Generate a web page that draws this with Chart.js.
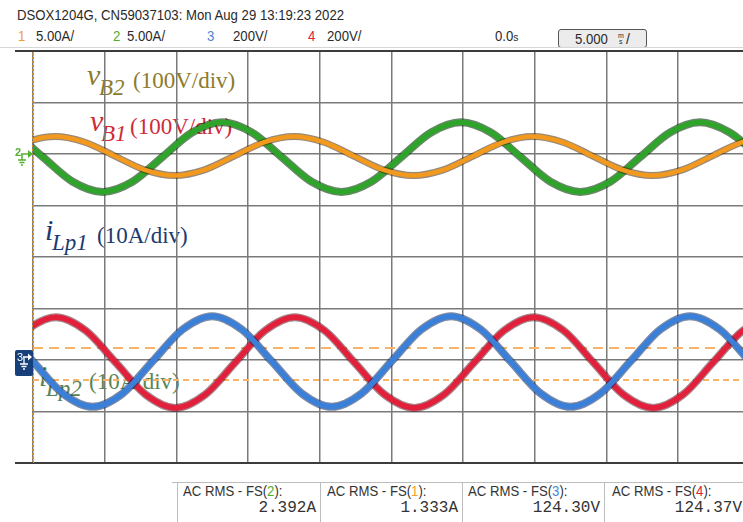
<!DOCTYPE html>
<html>
<head>
<meta charset="utf-8">
<script src="https://cdn.jsdelivr.net/npm/chart.js@4.4.0/dist/chart.umd.min.js"></script>
<style>
  html, body { margin: 0; padding: 0; background: #fff; }
  #scope { position: relative; width: 743px; height: 522px; overflow: hidden; }
  #scope canvas { position: absolute; left: 0; top: 0; z-index: 2; }
  .t { position: absolute; white-space: nowrap; z-index: 1; }
  .top { z-index: 3; }
  #tbBox { position: absolute; left: 558px; top: 29px; width: 89px; height: 19px; box-sizing: border-box;
           border: 1.5px solid #555; border-radius: 3px; background: #ececec; z-index: 0; }
</style>
</head>
<body>
<div id="scope"><div id="tbBox"></div><canvas id="wave" width="743" height="522"></canvas></div>
<script>
// captured waveforms, time in ms (5 ms/div), 1 & 2 in A, 3 & 4 in V
const ch1Times = [-2.63, -0.54, 1.54, 3.62, 5.71, 7.79, 9.87, 11.96, 14.04, 16.12, 18.21, 20.29, 22.37, 24.46,
  26.54, 28.62, 30.71, 32.79, 34.87, 36.96, 39.04, 41.12, 43.21, 45.29, 47.37, 49.46, 51.54];
const ch1Amps = [-0.20, 1.14, 1.69, 1.14, -0.20, -1.54, -2.09, -1.54, -0.20, 1.14, 1.69, 1.14, -0.20, -1.54,
  -2.09, -1.54, -0.20, 1.14, 1.69, 1.14, -0.20, -1.54, -2.09, -1.54, -0.20, 1.14, 1.69];

const ch2Times = [-3.48, -1.40, 0.69, 2.77, 4.85, 6.94, 9.02, 11.10, 13.19, 15.27, 17.35, 19.44, 21.52, 23.60,
  25.69, 27.77, 29.85, 31.94, 34.02, 36.10, 38.19, 40.27, 42.35, 44.44, 46.52, 48.60, 50.69];
const ch2Amps = [3.08, 2.09, -0.30, -2.69, -3.68, -2.69, -0.30, 2.09, 3.08, 2.09, -0.30, -2.69, -3.68, -2.69,
  -0.30, 2.09, 3.08, 2.09, -0.30, -2.69, -3.68, -2.69, -0.30, 2.09, 3.08, 2.09, -0.30];

const ch3Times = [-4.17, -2.08, 0.00, 2.08, 4.17, 6.25, 8.33, 10.42, 12.50, 14.58, 16.67, 18.75, 20.83, 22.92,
  25.00, 27.08, 29.17, 31.25, 33.33, 35.42, 37.50, 39.58, 41.67, 43.75, 45.83, 47.92, 50.00];
const ch3Volts = [170, 118, -6, -130, -182, -130, -6, 118, 170, 118, -6, -130, -182, -130,
  -6, 118, 170, 118, -6, -130, -182, -130, -6, 118, 170, 118, -6];

const ch4Times = [-2.57, -0.48, 1.60, 3.68, 5.77, 7.85, 9.93, 12.02, 14.10, 16.18, 18.27, 20.35, 22.43, 24.52,
  26.60, 28.68, 30.77, 32.85, 34.93, 37.02, 39.10, 41.18, 43.27, 45.35, 47.43, 49.52, 51.60];
const ch4Volts = [-10, 114, 166, 114, -10, -134, -186, -134, -10, 114, 166, 114, -10, -134,
  -186, -134, -10, 114, 166, 114, -10, -134, -186, -134, -10, 114, 166];

const cursorVolts = [47, -78];
const screenMs = 49.53;

const rms = [
  { ch: '2', color: '#4cae2e', value: '2.392A' },
  { ch: '1', color: '#f0a030', value: '1.333A' },
  { ch: '3', color: '#4a86d8', value: '124.30V' },
  { ch: '4', color: '#e0203a', value: '124.37V' }
];

// ---------- text ----------
const scope = document.getElementById('scope');
const fams = {
  sans: ['"Liberation Sans", Arial, sans-serif', 0.8465],
  serif: ['"Liberation Serif", "Times New Roman", serif', 0.8375],
  mono: ['"Liberation Mono", "DejaVu Sans Mono", monospace', 0.7665]
};
function put(html, x, base, size, fam, color, o = {}) {
  const el = document.createElement('span');
  el.className = 't' + (o.top ? ' top' : '');
  el.innerHTML = html;
  el.style.fontFamily = fams[fam][0];
  el.style.fontSize = size + 'px';
  el.style.lineHeight = size + 'px';
  el.style.top = (base - fams[fam][1] * size) + 'px';
  el.style.color = color;
  if (o.italic) el.style.fontStyle = 'italic';
  if (o.bold) el.style.fontWeight = 'bold';
  if (o.right) el.style.right = (743 - x) + 'px'; else el.style.left = x + 'px';
  if (o.sx) { el.style.transform = 'scaleX(' + o.sx + ')'; el.style.transformOrigin = o.right ? 'right' : 'left'; }
  if (o.alpha) el.style.opacity = o.alpha;
  scope.appendChild(el);
}

const ink = '#2a2a2a';
put('DSOX1204G, CN59037103: Mon Aug 29 13:19:23 2022', 17, 20, 14, 'sans', ink, { sx: 0.94 });
put('1', 18, 41, 14, 'sans', '#f0a030', { sx: 0.94 });
put('5.00A/', 36, 41, 14, 'sans', ink, { sx: 0.94 });
put('2', 113, 41, 14, 'sans', '#4cae2e', { sx: 0.94 });
put('5.00A/', 127, 41, 14, 'sans', ink, { sx: 0.94 });
put('3', 207, 41, 14, 'sans', '#4a86d8', { sx: 0.94 });
put('200V/', 233, 41, 14, 'sans', ink, { sx: 0.94 });
put('4', 308, 41, 14, 'sans', '#e0203a', { sx: 0.94 });
put('200V/', 327, 41, 14, 'sans', ink, { sx: 0.94 });
put('0.0<span style="font-size:11px">s</span>', 495, 41, 14, 'sans', ink, { sx: 0.94 });
put('5.000', 575, 44, 14, 'sans', ink, { sx: 0.94 });
put('m', 618, 38, 7, 'sans', ink);
put('s', 619, 44, 7, 'sans', ink);
put('/', 626, 44, 14, 'sans', ink);

// measurement table
const cellLeft = [183, 327, 468, 612];
const cellRight = [316, 458, 600, 742];
rms.forEach((m, i) => {
  put('AC RMS - FS(<span style="color:' + m.color + '">' + m.ch + '</span>):', cellLeft[i], 496, 14, 'sans', '#333', { sx: 0.94 });
  put(m.value, cellRight[i], 512, 16, 'mono', '#333', { right: true });
});

// annotations laid over the screen
function tag(main, sub, unit, x, base, color, subDx, unitDx, alpha) {
  put(main, x, base, 30, 'serif', color, { italic: true, alpha });
  put(sub, x + subDx, base + 10, 23, 'serif', color, { italic: true, alpha });
  put(unit, x + unitDx, base + 3, 23, 'serif', color, { alpha });
}
tag('v', 'B2', '(100V/div)', 87, 85, '#8d7b2c', 12, 46, 1);
tag('v', 'B1', '(100V/div)', 90, 131, '#d02a38', 11, 40, 1);
tag('i', 'Lp1', '(10A/div)', 45, 240, '#1c3a72', 7, 52, 1);
tag('i', 'Lp2', '(10A/div)', 39, 386, '#4b7a45', 7, 50, 0.92);

// channel digits on the ground markers
put('2', 15, 156, 11, 'sans', '#55b030', { top: true, bold: true });
put('3', 17, 361, 11, 'sans', '#ffffff', { top: true });

// ---------- chart ----------
const pts = (xs, ys) => xs.map((t, i) => ({ x: t, y: ys[i] }));
function trace(xs, ys, axis, color, width, order) {
  return { data: pts(xs, ys), yAxisID: axis, borderColor: color, borderWidth: width,
    pointRadius: 0, cubicInterpolationMode: 'monotone', order };
}

const scopeMarks = {
  id: 'scopeMarks',
  afterDraw(chart) {
    const c = chart.ctx, a = chart.chartArea;
    c.save();
    c.strokeStyle = '#d6d6d6'; c.lineWidth = 1;
    c.beginPath(); c.moveTo(0, 47.5); c.lineTo(743, 47.5); c.stroke();

    c.strokeStyle = '#3c3c3c'; c.lineWidth = 2;
    c.beginPath();
    c.moveTo(15, a.top); c.lineTo(a.left, a.top);
    c.moveTo(15, a.bottom); c.lineTo(a.left, a.bottom);
    c.stroke();

    // measurement table rules
    c.strokeStyle = '#bdbdbd'; c.lineWidth = 1;
    c.beginPath(); c.moveTo(172, 482.5); c.lineTo(743, 482.5);
    [177, 320, 462, 604].forEach(x => { c.moveTo(x + 0.5, 482.5); c.lineTo(x + 0.5, 522); });
    c.stroke();

    // channel 2 ground marker
    const y2 = Math.round(chart.scales.yA.getPixelForValue(0));
    c.strokeStyle = c.fillStyle = '#55b030'; c.lineWidth = 1.5;
    c.beginPath();
    c.moveTo(21, y2); c.lineTo(29, y2);
    c.moveTo(22, y2); c.lineTo(22, y2 + 6);
    c.moveTo(18, y2 + 6); c.lineTo(26, y2 + 6);
    c.moveTo(19.5, y2 + 8.5); c.lineTo(24.5, y2 + 8.5);
    c.moveTo(21, y2 + 11); c.lineTo(23, y2 + 11);
    c.stroke();
    c.beginPath(); c.moveTo(28, y2 - 4); c.lineTo(33, y2); c.lineTo(28, y2 + 4); c.closePath(); c.fill();

    // channel 3 ground marker
    const y3 = Math.round(chart.scales.yV.getPixelForValue(0));
    c.fillStyle = '#173f7a';
    c.beginPath(); c.roundRect(15, y3 - 10, 18, 26, 2); c.fill();
    c.strokeStyle = c.fillStyle = '#ffffff'; c.lineWidth = 1.3;
    c.beginPath();
    c.moveTo(23, y3 - 3); c.lineTo(29, y3 - 3);
    c.moveTo(24, y3 - 3); c.lineTo(24, y3 + 4);
    c.moveTo(20, y3 + 4); c.lineTo(28, y3 + 4);
    c.moveTo(21.5, y3 + 6.5); c.lineTo(26.5, y3 + 6.5);
    c.moveTo(23, y3 + 9); c.lineTo(25, y3 + 9);
    c.stroke();
    c.beginPath(); c.moveTo(28, y3 - 6.5); c.lineTo(32, y3 - 3); c.lineTo(28, y3 + 0.5); c.closePath(); c.fill();
    c.restore();
  }
};

const gridInk = '#7a7a7a';
new Chart(document.getElementById('wave'), {
  type: 'line',
  data: {
    datasets: [
      trace(ch3Times, ch3Volts, 'yV', '#3a80d8', 5.5, 0),
      trace(ch3Times, ch3Volts, 'yV', 'rgba(20,40,90,0.55)', 8, 1),
      trace(ch4Times, ch4Volts, 'yV', '#e2203c', 5.5, 2),
      trace(ch4Times, ch4Volts, 'yV', 'rgba(80,10,20,0.5)', 8, 3),
      trace(ch1Times, ch1Amps, 'yA', '#f39a1e', 4.5, 4),
      trace(ch1Times, ch1Amps, 'yA', 'rgba(70,40,5,0.55)', 7, 5),
      trace(ch2Times, ch2Amps, 'yA', '#2ea52a', 5.5, 6),
      trace(ch2Times, ch2Amps, 'yA', 'rgba(10,50,10,0.6)', 8, 7),
      { data: [{ x: 0, y: cursorVolts[0] }, { x: screenMs, y: cursorVolts[0] }], yAxisID: 'yV',
        borderColor: '#f7b468', borderWidth: 2, borderDash: [10, 6], pointRadius: 0, order: 8 },
      { data: [{ x: 0, y: cursorVolts[1] }, { x: screenMs, y: cursorVolts[1] }], yAxisID: 'yV',
        borderColor: '#f7b468', borderWidth: 2, borderDash: [6, 4], pointRadius: 0, order: 9 },
      { data: [{ x: 0, y: -4 }, { x: 0, y: 4 }], yAxisID: 'y',
        borderColor: '#c98a3a', borderWidth: 2, borderDash: [2, 2], pointRadius: 0, clip: 3, order: 10 }
    ]
  },
  options: {
    responsive: false,
    animation: false,
    devicePixelRatio: 1,
    layout: { padding: { left: 33, top: 51, right: 0, bottom: 59 } },
    plugins: { legend: { display: false }, tooltip: { enabled: false } },
    scales: {
      x: {
        type: 'linear', min: 0, max: screenMs,
        ticks: { stepSize: 5, display: false, includeBounds: false },
        grid: { color: gridInk, lineWidth: 1.5, drawTicks: false },
        border: { display: false }
      },
      y: {
        min: -4, max: 4,
        ticks: { stepSize: 1, display: false },
        grid: {
          color: ctx => Math.abs(ctx.tick.value) === 4 ? '#3c3c3c' : gridInk,
          lineWidth: ctx => Math.abs(ctx.tick.value) === 4 ? 2 : 1.5,
          drawTicks: false
        },
        border: { display: false }
      },
      yA: { display: false, min: -30, max: 10 },
      yV: { display: false, min: -400, max: 1200 }
    }
  },
  plugins: [scopeMarks]
});
</script>
</body>
</html>
